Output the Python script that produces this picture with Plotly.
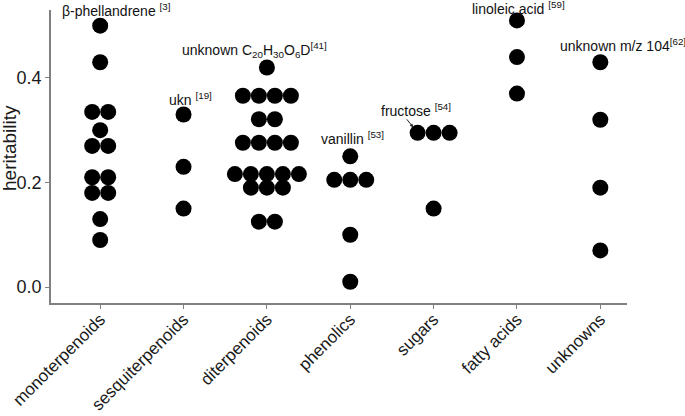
import plotly.graph_objects as go

categories = ["monoterpenoids", "sesquiterpenoids", "diterpenoids", "phenolics",
              "sugars", "fatty acids", "unknowns"]

monoterpenoids = [0.50, 0.43, 0.335, 0.335, 0.30, 0.27, 0.27, 0.21, 0.21, 0.18, 0.18, 0.13, 0.09]
sesquiterpenoids = [0.33, 0.23, 0.15]
diterpenoids = [0.42, 0.366, 0.366, 0.366, 0.366, 0.321, 0.321, 0.276, 0.276, 0.276, 0.276,
                0.216, 0.216, 0.216, 0.216, 0.216, 0.19, 0.19, 0.19, 0.125, 0.125]
phenolics = [0.25, 0.205, 0.205, 0.205, 0.10, 0.01]
sugars = [0.295, 0.295, 0.295, 0.15]
fatty_acids = [0.51, 0.44, 0.37]
unknowns = [0.43, 0.32, 0.19, 0.07]

series = [monoterpenoids, sesquiterpenoids, diterpenoids, phenolics, sugars, fatty_acids, unknowns]

yticks = [0.0, 0.2, 0.4]
ytick_labels = ["0.0", "0.2", "0.4"]
y_title = "heritability"

labels = [
    # (category index, text, xshift, yshift)
    (0, "β-phellandrene <sup>[3]</sup>", 16, 16),
    (1, "ukn <sup>[19]</sup>", 7, 16),
    (2, "unknown C<sub>20</sub>H<sub>30</sub>O<sub>6</sub>D<sup>[41]</sup>", -12, 17),
    (3, "vanillin <sup>[53]</sup>", 2, 18),
    (5, "linoleic acid <sup>[59]</sup>", 2, 12),
    (6, "unknown m/z 104<sup>[62]</sup>", 23, 17),
]

DOT_W = 0.192  # dot width in category units (centred dot stacking)

xs, ys = [], []
for ci, vals in enumerate(series):
    groups = {}
    for v in vals:
        groups.setdefault(v, 0)
        groups[v] += 1
    for v, n in groups.items():
        for i in range(n):
            xs.append(ci + (i - (n - 1) / 2) * DOT_W)
            ys.append(v)

fig = go.Figure()
fig.add_trace(go.Scatter(
    x=xs, y=ys, mode="markers",
    marker=dict(size=16, color="black", line=dict(width=0)),
    cliponaxis=False, hoverinfo="skip", showlegend=False,
))

font = "Liberation Sans, Arial"
anns = []
for ci, text, dx, dy in labels:
    anns.append(dict(x=ci, y=max(series[ci]), xref="x", yref="y", text=text,
                     showarrow=False, xshift=dx, yshift=dy,
                     font=dict(family=font, size=14, color="#111111")))

# fructose label with arrow to left-most sugar dot
n_s = sugars.count(max(sugars))
left_x = 4 + (0 - (n_s - 1) / 2) * DOT_W
anns.append(dict(x=4, y=max(sugars), xref="x", yref="y", text="fructose <sup>[54]</sup>",
                 showarrow=False, xshift=-18, yshift=23,
                 font=dict(family=font, size=14, color="#111111")))
anns.append(dict(x=left_x, y=max(sugars), xref="x", yref="y", text="",
                 showarrow=True, ax=-12, ay=-15, arrowhead=2, arrowsize=0.7,
                 arrowwidth=1, arrowcolor="#222222", standoff=7))

# y-axis title
anns.append(dict(x=0, y=0.529, xref="paper", yref="paper", text=y_title, textangle=-90,
                 showarrow=False, xanchor="center", yanchor="middle", xshift=-42,
                 font=dict(family="Liberation Sans, Arial", size=19, color="#1a1a1a")))

fig.update_layout(
    width=685, height=416,
    margin=dict(l=51, r=58, t=10, b=113),
    paper_bgcolor="white", plot_bgcolor="white",
    annotations=anns,
    font=dict(family="Liberation Sans, Arial", color="#1a1a1a"),
)
fig.update_xaxes(
    range=[-0.59, 6.32], tickmode="array", tickvals=list(range(len(categories))),
    ticktext=categories, tickangle=-45,
    tickfont=dict(size=17, family="Liberation Sans, Arial", color="#1a1a1a"),
    ticklabelstandoff=-6,
    showgrid=False, zeroline=False, showline=True, linecolor="#808080", linewidth=1.5,
    ticks="outside", ticklen=4, tickcolor="#808080", tickwidth=1, automargin=False,
)
fig.update_yaxes(
    range=[-0.0306, 0.530], tickmode="array", tickvals=yticks, ticktext=ytick_labels,
    tickfont=dict(size=18, family="Liberation Sans, Arial", color="#1a1a1a"),
    showgrid=False, zeroline=False, showline=True, linecolor="#808080", linewidth=1.5,
    ticks="outside", ticklen=4, tickcolor="#808080", tickwidth=1, automargin=False,
)

fig.write_html("out.html", config={"displayModeBar": False},
               post_script="document.body.style.margin='0px';document.body.style.padding='0px';")
